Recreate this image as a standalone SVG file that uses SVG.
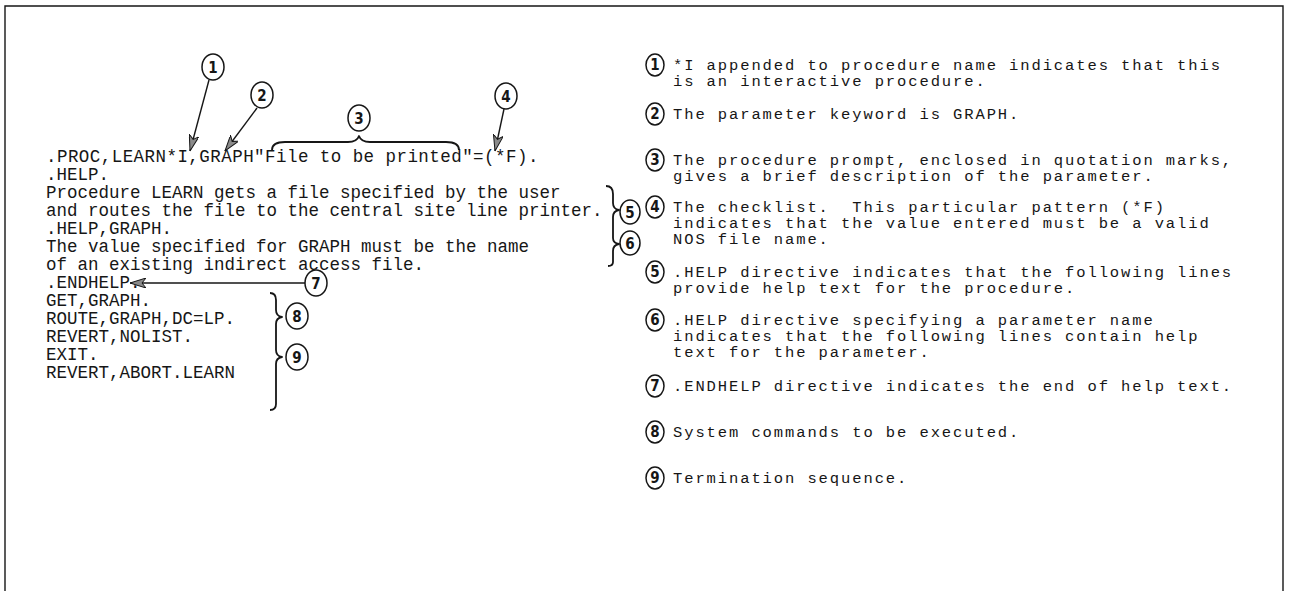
<svg xmlns="http://www.w3.org/2000/svg" width="1291" height="591" viewBox="0 0 1291 591">
  <style>
    .code { font-family: "Liberation Mono", "DejaVu Sans Mono", monospace; font-size: 17.5px; fill: #161616; }
    .wide { letter-spacing: 0.45px; }
    .note { font-family: "Liberation Mono", "DejaVu Sans Mono", monospace; font-size: 15.5px; letter-spacing: 1.9px; fill: #161616; }
    .num { font-family: "DejaVu Sans Condensed", "DejaVu Sans", sans-serif; font-stretch: condensed; font-size: 15px; font-weight: bold; fill: #161616; text-anchor: middle; }
    .ring { fill: none; stroke: #161616; stroke-width: 1.5; }
    .line { fill: none; stroke: #161616; stroke-width: 1.4; }
    .brace { fill: none; stroke: #161616; stroke-width: 1.8; stroke-linejoin: round; }
  </style>
  <defs>
    <marker id="head" markerUnits="userSpaceOnUse" viewBox="0 0 16 10" refX="16" refY="5" markerWidth="16" markerHeight="10" orient="auto">
      <path d="M0,0 L16,5 L0,10 L4,5 Z" fill="#8a8a8a" stroke="#161616" stroke-width="1"/>
    </marker>
  </defs>

  <rect width="1291" height="591" fill="#ffffff"/>
  <!-- outer frame (open at the bottom) -->
  <path class="line" d="M5,591 V6 H1283 V591" stroke-width="2"/>

  <!-- procedure listing -->
  <g id="listing">
    <text class="code wide" x="46" y="162">.PROC,LEARN*I,GRAPH"File to be printed"=(*F).</text>
    <text class="code" x="46" y="180">.HELP.</text>
    <text class="code" x="46" y="198">Procedure LEARN gets a file specified by the user</text>
    <text class="code" x="46" y="216">and routes the file to the central site line printer.</text>
    <text class="code" x="46" y="234">.HELP,GRAPH.</text>
    <text class="code" x="46" y="252">The value specified for GRAPH must be the name</text>
    <text class="code" x="46" y="270">of an existing indirect access file.</text>
    <text class="code" x="46" y="288">.ENDHELP.</text>
    <text class="code" x="46" y="306">GET,GRAPH.</text>
    <text class="code" x="46" y="324">ROUTE,GRAPH,DC=LP.</text>
    <text class="code" x="46" y="342">REVERT,NOLIST.</text>
    <text class="code" x="46" y="360">EXIT.</text>
    <text class="code" x="46" y="378">REVERT,ABORT.LEARN</text>
  </g>

  <!-- callout markers on the listing -->
  <g id="callout-1"><ellipse class="ring" cx="213" cy="67" rx="11" ry="13"/><text class="num" x="213" y="73">1</text></g>
  <g id="callout-2"><ellipse class="ring" cx="262" cy="95" rx="11" ry="13"/><text class="num" x="262" y="101">2</text></g>
  <g id="callout-3"><ellipse class="ring" cx="359" cy="118" rx="11" ry="13"/><text class="num" x="359" y="124">3</text></g>
  <g id="callout-4"><ellipse class="ring" cx="506" cy="96" rx="11" ry="13"/><text class="num" x="506" y="102">4</text></g>
  <g id="callout-5"><ellipse class="ring" cx="630" cy="212" rx="10" ry="12"/><text class="num" x="630" y="218">5</text></g>
  <g id="callout-6"><ellipse class="ring" cx="630" cy="243" rx="10" ry="12"/><text class="num" x="630" y="249">6</text></g>
  <g id="callout-7"><ellipse class="ring" cx="316" cy="283" rx="11" ry="13"/><text class="num" x="316" y="289">7</text></g>
  <g id="callout-8"><ellipse class="ring" cx="297" cy="316" rx="11" ry="13"/><text class="num" x="297" y="322">8</text></g>
  <g id="callout-9"><ellipse class="ring" cx="297" cy="357" rx="11" ry="13"/><text class="num" x="297" y="363">9</text></g>

  <!-- arrows and braces -->
  <g id="connectors">
    <line class="line" x1="209" y1="80" x2="190" y2="151" marker-end="url(#head)"/>
    <line class="line" x1="257" y1="108" x2="225" y2="151" marker-end="url(#head)"/>
    <line class="line" x1="504" y1="109" x2="495" y2="151" marker-end="url(#head)"/>
    <line class="line" x1="305" y1="283" x2="130" y2="283" marker-end="url(#head)"/>
    <!-- brace over the prompt string -->
    <path class="brace" d="M272,150 Q272,142 285,142 L348,142 Q357,142 359,136 Q361,142 370,142 L446,142 Q459,142 459,150"/>
    <!-- braces for help text -->
    <path class="brace" d="M606,186 Q613,186 613,194 L613,203 Q613,209 619,210 Q613,211 613,217 L613,238 Q613,243 619,244 Q613,245 613,251 L613,262 Q613,266 608,266"/>
    <!-- braces for system commands -->
    <path class="brace" d="M270,293 Q276,293 276,300 L276,310 Q276,316 282,317 Q276,318 276,324 L276,350 Q276,356 282,357 Q276,358 276,364 L276,404 Q276,410 270,410"/>
  </g>

  <!-- explanatory notes -->
  <g id="note-1"><ellipse class="ring" cx="655" cy="65" rx="9" ry="11"/><text class="num" x="655" y="70">1</text>
    <text class="note" x="673" y="70">*I appended to procedure name indicates that this</text>
    <text class="note" x="673" y="86">is an interactive procedure.</text></g>
  <g id="note-2"><ellipse class="ring" cx="655" cy="114" rx="9" ry="11"/><text class="num" x="655" y="119">2</text>
    <text class="note" x="673" y="119">The parameter keyword is GRAPH.</text></g>
  <g id="note-3"><ellipse class="ring" cx="655" cy="160" rx="9" ry="11"/><text class="num" x="655" y="165">3</text>
    <text class="note" x="673" y="165">The procedure prompt, enclosed in quotation marks,</text>
    <text class="note" x="673" y="181">gives a brief description of the parameter.</text></g>
  <g id="note-4"><ellipse class="ring" cx="655" cy="207" rx="9" ry="11"/><text class="num" x="655" y="212">4</text>
    <text class="note" x="673" y="212" xml:space="preserve">The checklist.  This particular pattern (*F)</text>
    <text class="note" x="673" y="228">indicates that the value entered must be a valid</text>
    <text class="note" x="673" y="244">NOS file name.</text></g>
  <g id="note-5"><ellipse class="ring" cx="655" cy="272" rx="9" ry="11"/><text class="num" x="655" y="277">5</text>
    <text class="note" x="673" y="277">.HELP directive indicates that the following lines</text>
    <text class="note" x="673" y="293">provide help text for the procedure.</text></g>
  <g id="note-6"><ellipse class="ring" cx="655" cy="320" rx="9" ry="11"/><text class="num" x="655" y="325">6</text>
    <text class="note" x="673" y="325">.HELP directive specifying a parameter name</text>
    <text class="note" x="673" y="341">indicates that the following lines contain help</text>
    <text class="note" x="673" y="357">text for the parameter.</text></g>
  <g id="note-7"><ellipse class="ring" cx="655" cy="386" rx="9" ry="11"/><text class="num" x="655" y="391">7</text>
    <text class="note" x="673" y="391">.ENDHELP directive indicates the end of help text.</text></g>
  <g id="note-8"><ellipse class="ring" cx="655" cy="432" rx="9" ry="11"/><text class="num" x="655" y="437">8</text>
    <text class="note" x="673" y="437">System commands to be executed.</text></g>
  <g id="note-9"><ellipse class="ring" cx="655" cy="478" rx="9" ry="11"/><text class="num" x="655" y="483">9</text>
    <text class="note" x="673" y="483">Termination sequence.</text></g>
</svg>
